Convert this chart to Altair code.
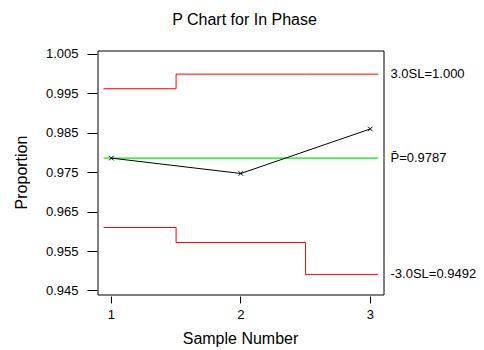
import altair as alt
import pandas as pd

samples = [1, 2, 3]
proportions = [0.9787, 0.9748, 0.9861]
center = 0.9787
ucl = [0.9963, 1.000, 1.000]
lcl = [0.9611, 0.9573, 0.9492]
limit_labels = ["3.0SL=1.000", "P\u0304=0.9787", "-3.0SL=0.9492"]
y_ticks = [0.945, 0.955, 0.965, 0.975, 0.985, 0.995, 1.005]

W, H = 286, 244
FONT = "Liberation Sans"

x_lo, x_hi = 0.94, 3.06

def step_rows(vals, name):
    rows = []
    xs = [max(x_lo, s - 0.5) for s in samples] + [x_hi]
    ys = vals + [vals[-1]]
    for x, y in zip(xs, ys):
        rows.append({"x": x, "y": y, "series": name})
    return rows

limits = pd.DataFrame(step_rows(ucl, "UCL") + step_rows(lcl, "LCL"))
pts = pd.DataFrame({"x": samples, "y": proportions})
cl = pd.DataFrame({"x": [x_lo, x_hi], "y": [center, center]})
labels = pd.DataFrame({"y": [ucl[-1], center, lcl[-1]], "t": limit_labels})

xs = alt.Scale(domain=[0.893, 3.102], nice=False, zero=False)
ys = alt.Scale(domain=[0.9441, 1.006], nice=False, zero=False)

xaxis = alt.Axis(values=samples, format="d", title="Sample Number", grid=False, domain=False,
                 tickSize=7, offset=2, tickColor="black", labelColor="black", labelFontSize=13,
                 labelFont=FONT, labelPadding=5, titleFont=FONT, titleFontSize=16,
                 titleFontWeight="normal", titleColor="black", titlePadding=9, labelFlush=False,
                 translate=0)
yaxis = alt.Axis(values=y_ticks, format=".3f", title="Proportion", grid=False, domain=False,
                 tickSize=10, tickColor="black", labelColor="black", labelFontSize=13,
                 labelFont=FONT, labelPadding=9, titleFont=FONT, titleFontSize=16,
                 titleFontWeight="normal", titleColor="black", titlePadding=16, labelFlush=False,
                 translate=0)

lim = alt.Chart(limits).mark_line(interpolate="step-after", color="#ff0000", strokeWidth=1).encode(
    x=alt.X("x:Q", scale=xs, axis=xaxis),
    y=alt.Y("y:Q", scale=ys, axis=yaxis),
    detail="series:N",
)
cline = alt.Chart(cl).mark_line(color="#00ee00", strokeWidth=1.2).encode(
    x=alt.X("x:Q", scale=xs), y=alt.Y("y:Q", scale=ys))
line = alt.Chart(pts).mark_line(color="black", strokeWidth=1).encode(
    x=alt.X("x:Q", scale=xs), y=alt.Y("y:Q", scale=ys))
marks = alt.Chart(pts).mark_point(shape="M-1,-1L1,1M-1,1L1,-1", size=20, color="black",
                                  strokeWidth=1, filled=False, opacity=1).encode(
    x=alt.X("x:Q", scale=xs), y=alt.Y("y:Q", scale=ys))
txt = alt.Chart(labels).mark_text(align="left", baseline="middle", fontSize=13, font=FONT,
                                  color="black").encode(
    x=alt.value(W + 7), y=alt.Y("y:Q", scale=ys), text="t:N")
title = alt.Chart(pd.DataFrame({"t": ["P Chart for In Phase"]})).mark_text(
    align="center", baseline="middle", fontSize=16, font=FONT, color="black").encode(
    x=alt.value(147), y=alt.value(-31), text="t:N")

chart = alt.layer(lim, cline, line, marks, txt, title).properties(
    width=W, height=H,
    autosize=alt.AutoSizeParams(type="none"),
    padding={"left": 89.5, "top": 42.5, "right": 92.5, "bottom": 54.5},
    background="white",
).configure_view(stroke="black", strokeWidth=1)

chart.save("out.html", embed_options={"renderer": "svg", "actions": False})
